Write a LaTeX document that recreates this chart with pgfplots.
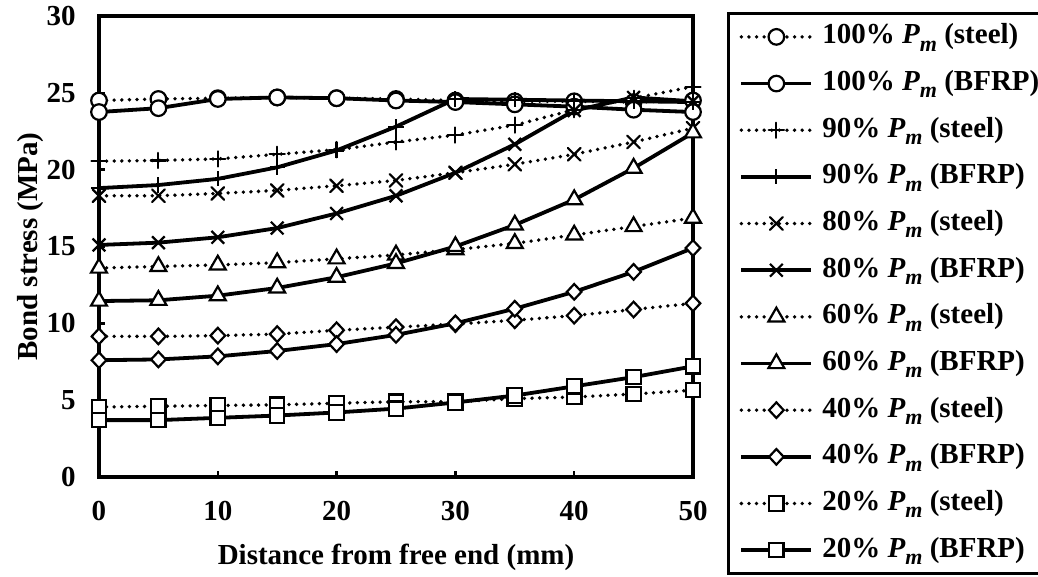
\documentclass[border=0pt]{standalone}
\usepackage{fontspec}
\setmainfont{Liberation Serif}
\usepackage{pgfplots}
\pgfplotsset{compat=1.18}
\newcommand{\Pm}{\textit{P}\raisebox{-3.6pt}{\fontsize{11pt}{11pt}\selectfont\textit{m}}}
\newcommand{\fnt}{\fontsize{14.5pt}{17pt}\selectfont\bfseries}
\tikzset{
  steel/.style={line width=1.9pt, line cap=round, dash pattern=on 0pt off 3.8pt},
  bfrp/.style={line width=1.9pt},
}
\pgfplotstableread{
x   s100  b100  s90   b90   s80   b80   s60   b60   s40   b40   s20   b20
0   24.5  23.75 20.55 18.8  18.3  15.1  13.6  11.45 9.15  7.6   4.55  3.7
5   24.6  24.0  20.6  19.0  18.3  15.25 13.7  11.5  9.15  7.65  4.6   3.7
10  24.65 24.6  20.7  19.4  18.45 15.6  13.8  11.8  9.2   7.85  4.65  3.85
15  24.7  24.7  21.0  20.15 18.65 16.2  13.95 12.3  9.3   8.2   4.7   4.0
20  24.65 24.65 21.3  21.25 18.95 17.15 14.2  13.0  9.55  8.65  4.8   4.2
25  24.6  24.5  21.8  22.8  19.3  18.3  14.45 13.9  9.75  9.25  4.9   4.45
30  24.5  24.4  22.25 24.6  19.8  19.8  14.8  15.0  9.95  10.0  4.9   4.85
35  24.45 24.25 22.9  24.55 20.35 21.65 15.2  16.4  10.2  10.95 5.1   5.3
40  24.45 24.1  23.9  24.5  21.0  23.85 15.75 18.05 10.5  12.05 5.2   5.9
45  24.4  23.9  24.65 24.45 21.8  24.7  16.3  20.1  10.9  13.35 5.4   6.5
50  24.5  23.75 25.4  24.4  22.7  24.45 16.85 22.4  11.3  14.9  5.65  7.2
}\data
\begin{document}
\begin{tikzpicture}
\path[use as bounding box] (-49.5pt,-50pt) rectangle (469.5pt,238.5pt);
\begin{axis}[
  at={(0pt,0pt)}, anchor=south west,
  scale only axis, width=297pt, height=230.5pt,
  xmin=0, xmax=50, ymin=0, ymax=30,
  xtick={0,10,...,50}, ytick={0,5,...,30},
  tick align=inside, xtick pos=left, ytick pos=left,
  major tick length=3.2pt,
  every tick/.style={black, line width=1.2pt},
  axis line style={line width=2pt, line join=miter},
  clip=false,
  ticklabel style={font=\fnt},
  /pgf/number format/assume math mode=true,
  xticklabel style={yshift=-8.4pt},
  yticklabel style={xshift=-8.2pt},
  xlabel={Distance from free end (mm)},
  ylabel={Bond stress (MPa)},
  label style={font=\fnt},
  xlabel style={at={(axis description cs:0.5,-0.19)}, anchor=base},
  ylabel style={at={(axis description cs:-0.103,0.5)}, anchor=base},
  legend cell align=left,
  legend style={at={(axis description cs:1.0572,1.0087)}, anchor=north west,
    draw=black, line width=1.5pt, font=\fnt, row sep=8.33pt, column sep=4.5pt,
    inner xsep=1.5pt, inner ysep=4.2pt,
    nodes={inner sep=0pt, text height=11pt, text depth=4pt}},
  legend image code/.code={\path (0pt,0pt); \draw[mark repeat=2,mark phase=2,#1] plot coordinates {(4pt,0pt)(21.5pt,0pt)(39pt,0pt)};},
]
\addplot[black, steel, mark=*, mark size=3.9pt, mark options={solid, draw=black, fill=white, line width=1.1pt}] table[x=x,y=s100]{\data};
\addlegendentry{100\% \Pm{} (steel)}
\addplot[black, bfrp, mark=*, mark size=3.9pt, mark options={solid, draw=black, fill=white, line width=1.1pt}] table[x=x,y=b100]{\data};
\addlegendentry{100\% \Pm{} (BFRP)}
\addplot[black, steel, mark=+, mark size=3.8pt, mark options={solid, draw=black, fill=white, line width=1.1pt}] table[x=x,y=s90]{\data};
\addlegendentry{90\% \Pm{} (steel)}
\addplot[black, bfrp, mark=+, mark size=3.8pt, mark options={solid, draw=black, fill=white, line width=1.1pt}] table[x=x,y=b90]{\data};
\addlegendentry{90\% \Pm{} (BFRP)}
\addplot[black, steel, mark=x, mark size=4.5pt, mark options={solid, draw=black, fill=white, line width=1.1pt}] table[x=x,y=s80]{\data};
\addlegendentry{80\% \Pm{} (steel)}
\addplot[black, bfrp, mark=x, mark size=4.5pt, mark options={solid, draw=black, fill=white, line width=1.1pt}] table[x=x,y=b80]{\data};
\addlegendentry{80\% \Pm{} (BFRP)}
\addplot[black, steel, mark=triangle*, mark size=4.6pt, mark options={solid, draw=black, fill=white, line width=1.1pt}] table[x=x,y=s60]{\data};
\addlegendentry{60\% \Pm{} (steel)}
\addplot[black, bfrp, mark=triangle*, mark size=4.6pt, mark options={solid, draw=black, fill=white, line width=1.1pt}] table[x=x,y=b60]{\data};
\addlegendentry{60\% \Pm{} (BFRP)}
\addplot[black, steel, mark=diamond*, mark size=3.9pt, mark options={solid, draw=black, fill=white, line width=1.1pt, xscale=1.25}] table[x=x,y=s40]{\data};
\addlegendentry{40\% \Pm{} (steel)}
\addplot[black, bfrp, mark=diamond*, mark size=3.9pt, mark options={solid, draw=black, fill=white, line width=1.1pt, xscale=1.25}] table[x=x,y=b40]{\data};
\addlegendentry{40\% \Pm{} (BFRP)}
\addplot[black, steel, mark=square*, mark size=3.6pt, mark options={solid, draw=black, fill=white, line width=1.1pt}] table[x=x,y=s20]{\data};
\addlegendentry{20\% \Pm{} (steel)}
\addplot[black, bfrp, mark=square*, mark size=3.6pt, mark options={solid, draw=black, fill=white, line width=1.1pt}] table[x=x,y=b20]{\data};
\addlegendentry{20\% \Pm{} (BFRP)}
\end{axis}
\end{tikzpicture}
\end{document}
